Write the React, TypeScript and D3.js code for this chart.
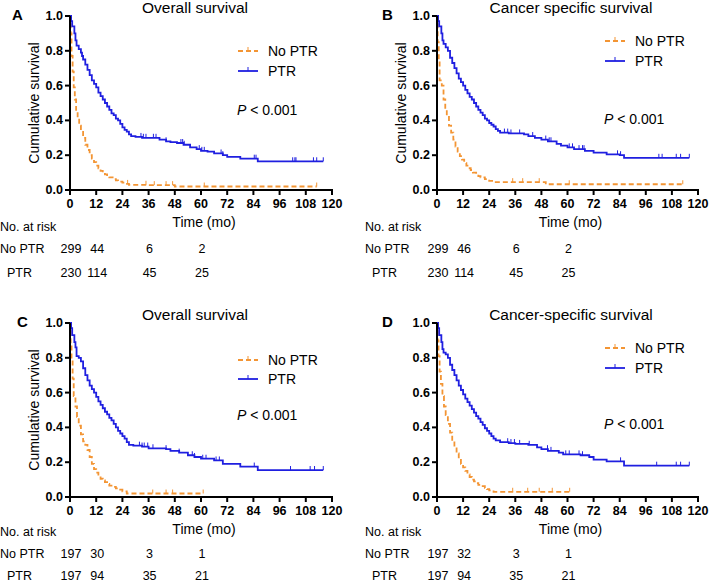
import React from 'react';
import * as d3 from 'd3';

const xTicks = [0, 12, 24, 36, 48, 60, 72, 84, 96, 108, 120];
const yTicks = [0, 0.2, 0.4, 0.6, 0.8, 1.0];
const riskTimes = [0, 12, 36, 60];
const groupNames = ['No PTR', 'PTR'];
const panelLetters = ['A', 'B', 'C', 'D'];
const panelTitles = ['Overall survival', 'Cancer specific survival', 'Overall survival', 'Cancer-specific survival'];

// ---- Panel A ----
const aNoPtr: [number, number][] = [
  [0, 1.0], [0.3, 0.9], [0.7, 0.77], [1.2, 0.68], [1.7, 0.59], [2.2, 0.52], [2.8, 0.46], [3.5, 0.41],
  [4.2, 0.37], [5, 0.34], [6, 0.3], [7, 0.26], [8, 0.23], [9, 0.2], [10, 0.18], [11, 0.16], [12, 0.14],
  [13, 0.125], [14, 0.11], [15, 0.1], [16, 0.09], [17, 0.08], [18, 0.072], [20, 0.062], [21, 0.055],
  [22, 0.048], [24, 0.042], [25, 0.035], [27, 0.03], [36, 0.028], [48, 0.02],
];
const aNoPtrEnd = 113;
const aNoPtrCens = [26.4, 34.8, 38.6, 44, 47, 61.5, 113];
const aPtr: [number, number][] = [
  [0, 1.0], [0.5, 0.97], [1, 0.94], [2, 0.9], [2.5, 0.86], [3, 0.83], [4, 0.81], [5, 0.79], [5.5, 0.77],
  [6, 0.75], [7, 0.72], [8, 0.69], [9, 0.66], [10, 0.63], [11, 0.61], [12, 0.59], [13, 0.56], [14, 0.54],
  [15, 0.52], [16, 0.5], [17, 0.48], [18, 0.46], [19, 0.44], [20, 0.43], [21, 0.41], [22, 0.4], [23, 0.38],
  [24, 0.36], [25, 0.345], [26, 0.335], [27, 0.32], [28, 0.31], [30, 0.305], [33, 0.3], [41, 0.29],
  [44, 0.28], [46, 0.275], [49, 0.27], [52, 0.26], [55, 0.245], [58, 0.235], [60, 0.225], [63, 0.22],
  [66, 0.21], [70, 0.2], [72, 0.19], [78, 0.18], [86, 0.165],
];
const aPtrEnd = 116;
const aPtrCens = [32.5, 33.6, 34.8, 38.2, 39.4, 44, 50.8, 51.6, 52.3, 59.2, 60.4, 61.5, 69.2, 70, 84.4, 85.2, 102, 103, 103.5, 111.5, 113, 116];
const aRiskNoPtr = [299, 44, 6, 2];
const aRiskPtr = [230, 114, 45, 25];

// ---- Panel B ----
const bNoPtr: [number, number][] = [
  [0, 1.0], [0.3, 0.85], [0.8, 0.75], [1.2, 0.63], [2.2, 0.6], [3, 0.52], [3.8, 0.46], [4.5, 0.42],
  [5.5, 0.37], [6.5, 0.33], [7.5, 0.29], [8.5, 0.25], [9.5, 0.22], [10.5, 0.195], [11.5, 0.175],
  [12.5, 0.155], [13.5, 0.14], [14.5, 0.125], [15.5, 0.115], [16.5, 0.1], [18, 0.09], [19, 0.08],
  [20, 0.072], [22, 0.062], [24, 0.052], [26, 0.045], [50, 0.033],
];
const bNoPtrEnd = 113;
const bNoPtrCens = [34.8, 39.4, 47, 60.8, 113];
const bPtr: [number, number][] = [
  [0, 1.0], [0.5, 0.97], [1, 0.94], [2, 0.9], [2.5, 0.86], [3, 0.84], [4, 0.82], [5, 0.8], [6, 0.76],
  [7, 0.73], [8, 0.7], [9, 0.67], [10, 0.64], [11, 0.62], [12, 0.6], [13, 0.575], [14, 0.555], [15, 0.535],
  [16, 0.52], [17, 0.5], [18, 0.48], [19, 0.46], [20, 0.445], [21, 0.43], [22, 0.41], [23, 0.4],
  [24, 0.385], [25, 0.375], [26, 0.365], [27, 0.35], [28, 0.34], [29, 0.33], [33, 0.325], [40, 0.32],
  [42, 0.31], [45, 0.3], [48, 0.29], [51, 0.28], [55, 0.265], [57, 0.255], [60, 0.245], [63, 0.235],
  [68, 0.225], [72, 0.215], [78, 0.205], [84, 0.2], [86, 0.185],
];
const bPtrEnd = 116;
const bPtrCens = [31, 32.5, 34, 38, 44, 50, 51.6, 52.4, 60.8, 62.3, 65.3, 66.9, 67.6, 83, 84.4, 102, 103.5, 110, 112, 116];
const bRiskNoPtr = [299, 46, 6, 2];
const bRiskPtr = [230, 114, 45, 25];

// ---- Panel C ----
const cNoPtr: [number, number][] = [
  [0, 1.0], [0.3, 0.88], [0.7, 0.78], [1.2, 0.68], [1.7, 0.58], [2.5, 0.52], [3.2, 0.46], [4, 0.41],
  [5, 0.36], [6, 0.32], [7, 0.3], [8, 0.27], [9, 0.23], [10, 0.19], [11, 0.16], [12, 0.14], [13, 0.12],
  [14, 0.105], [15, 0.095], [16, 0.085], [17, 0.075], [18, 0.065], [19, 0.058], [21, 0.05], [22, 0.042],
  [24, 0.032], [26, 0.02],
];
const cNoPtrEnd = 61;
const cNoPtrCens = [37.9, 44, 47, 61];
const cPtr: [number, number][] = [
  [0, 1.0], [0.5, 0.97], [1, 0.93], [2, 0.89], [2.5, 0.86], [3, 0.81], [4, 0.8], [5, 0.78], [6, 0.74],
  [7, 0.7], [8, 0.67], [9, 0.64], [10, 0.62], [11, 0.6], [12, 0.575], [13, 0.55], [14, 0.53], [15, 0.51],
  [16, 0.49], [17, 0.475], [18, 0.455], [19, 0.44], [20, 0.42], [21, 0.4], [22, 0.38], [23, 0.365],
  [24, 0.35], [25, 0.335], [26, 0.315], [27, 0.3], [29, 0.295], [33, 0.29], [36, 0.28], [44, 0.275],
  [46, 0.265], [50, 0.255], [54, 0.24], [57, 0.23], [60, 0.22], [66, 0.21], [70, 0.19], [78, 0.175],
  [86, 0.155],
];
const cPtrEnd = 116;
const cPtrCens = [31.8, 33, 34, 35.6, 38, 44, 50, 56, 57, 60.8, 62.3, 66.9, 68.4, 84.4, 101, 110, 112, 116];
const cRiskNoPtr = [197, 30, 3, 1];
const cRiskPtr = [197, 94, 35, 21];

// ---- Panel D ----
const dNoPtr: [number, number][] = [
  [0, 1.0], [0.3, 0.9], [0.7, 0.81], [1.2, 0.72], [1.8, 0.65], [2.5, 0.58], [3.2, 0.52], [4, 0.47],
  [5, 0.42], [6, 0.37], [7, 0.32], [8, 0.28], [9, 0.25], [10, 0.22], [11, 0.19], [12, 0.17], [13, 0.15],
  [14, 0.13], [15, 0.115], [16, 0.1], [17, 0.09], [18, 0.08], [19, 0.07], [20, 0.062], [22, 0.052],
  [23, 0.045], [24, 0.038], [26, 0.03],
];
const dNoPtrEnd = 61;
const dNoPtrCens = [34.8, 41.7, 47, 53, 61];
const dPtr: [number, number][] = [
  [0, 1.0], [0.5, 0.97], [1, 0.93], [2, 0.89], [2.5, 0.85], [3, 0.83], [4, 0.82], [5, 0.8], [6, 0.76],
  [7, 0.73], [8, 0.7], [9, 0.67], [10, 0.64], [11, 0.615], [12, 0.59], [13, 0.565], [14, 0.545],
  [15, 0.525], [16, 0.505], [17, 0.485], [18, 0.465], [19, 0.45], [20, 0.43], [21, 0.415], [22, 0.395],
  [23, 0.38], [24, 0.365], [25, 0.35], [26, 0.335], [27, 0.325], [29, 0.315], [33, 0.31], [36, 0.305],
  [42, 0.3], [46, 0.285], [48, 0.275], [51, 0.265], [56, 0.255], [58, 0.245], [66, 0.24], [70, 0.23],
  [72, 0.215], [78, 0.205], [86, 0.18],
];
const dPtrEnd = 116;
const dPtrCens = [32.5, 34, 35.6, 38, 42.4, 50.8, 52.4, 59.2, 60.8, 65.3, 66.9, 84.4, 101, 110, 112, 116];
const dRiskNoPtr = [197, 32, 3, 1];
const dRiskPtr = [197, 94, 35, 21];

const ORANGE = '#f39534';
const BLUE = '#1f1fe0';
const FONT = 'Liberation Sans, Arial, Helvetica, sans-serif';

type Series = { pts: [number, number][]; end: number; cens: number[] };

const panelData: { noPtr: Series; ptr: Series; riskNo: number[]; riskPtr: number[] }[] = [
  { noPtr: { pts: aNoPtr, end: aNoPtrEnd, cens: aNoPtrCens }, ptr: { pts: aPtr, end: aPtrEnd, cens: aPtrCens }, riskNo: aRiskNoPtr, riskPtr: aRiskPtr },
  { noPtr: { pts: bNoPtr, end: bNoPtrEnd, cens: bNoPtrCens }, ptr: { pts: bPtr, end: bPtrEnd, cens: bPtrCens }, riskNo: bRiskNoPtr, riskPtr: bRiskPtr },
  { noPtr: { pts: cNoPtr, end: cNoPtrEnd, cens: cNoPtrCens }, ptr: { pts: cPtr, end: cPtrEnd, cens: cPtrCens }, riskNo: cRiskNoPtr, riskPtr: cRiskPtr },
  { noPtr: { pts: dNoPtr, end: dNoPtrEnd, cens: dNoPtrCens }, ptr: { pts: dPtr, end: dPtrEnd, cens: dPtrCens }, riskNo: dRiskNoPtr, riskPtr: dRiskPtr },
];

// layout per panel
const layouts = [
  { x0: 70, x1: 332, oy: 0, left: 0, letterX: 12, titleX: 195, legY: [56, 76], pY: 115, yLabel: true, riskY: [231, 252.5, 277] },
  { x0: 437, x1: 698, oy: 0, left: 365, letterX: 382, titleX: 571, legY: [46, 66], pY: 124, yLabel: true, riskY: [231, 252.5, 277] },
  { x0: 70, x1: 332, oy: 307, left: 0, letterX: 17, titleX: 195, legY: [58, 77], pY: 113, yLabel: true, riskY: [229, 251, 273] },
  { x0: 437, x1: 698, oy: 307, left: 365, letterX: 382, titleX: 571, legY: [46, 66], pY: 122, yLabel: false, riskY: [229, 251, 273] },
];

function survAt(pts: [number, number][], t: number) {
  let s = pts[0][1];
  for (const p of pts) if (p[0] <= t) s = p[1];
  return s;
}

function Panel({ idx }: { idx: number }) {
  const L = layouts[idx];
  const D = panelData[idx];
  const yTop = 16 + L.oy;
  const yBot = 190 + L.oy;
  const x = d3.scaleLinear().domain([0, 120]).range([L.x0, L.x1]);
  const y = d3.scaleLinear().domain([0, 1]).range([yBot, yTop]);
  const line = d3.line<[number, number]>().x(d => x(d[0])).y(d => y(d[1])).curve(d3.curveStepAfter);
  const mk = (s: Series) => {
    const pts = [...s.pts, [s.end, s.pts[s.pts.length - 1][1]] as [number, number]];
    return line(pts) || '';
  };
  const series = [
    { s: D.noPtr, color: ORANGE, dash: '5,3' },
    { s: D.ptr, color: BLUE, dash: undefined as string | undefined },
  ];
  const legX = L.x0 + 168;
  const riskRows = [D.riskNo, D.riskPtr];
  return (
    <g fontFamily={FONT}>
      <text x={L.letterX} y={20 + L.oy} fontSize={15} fontWeight="bold">{panelLetters[idx]}</text>
      <text x={L.titleX} y={13 + L.oy} fontSize={15.5} textAnchor="middle">{panelTitles[idx]}</text>
      {L.yLabel && (
        <text transform={`translate(${L.x0 - 36},${(yTop + yBot) / 2}) rotate(-90)`} fontSize={14} textAnchor="middle" dominantBaseline="central">Cumulative survival</text>
      )}
      {series.map((sr, i) => (
        <g key={i}>
          <path d={mk(sr.s)} fill="none" stroke={sr.color} strokeWidth={1.8} strokeDasharray={sr.dash} />
          {sr.s.cens.map((c, j) => {
            const yy = y(survAt(sr.s.pts, c));
            return <line key={j} x1={x(c)} x2={x(c)} y1={yy} y2={yy - 4} stroke={sr.color} strokeWidth={1} />;
          })}
        </g>
      ))}
      {/* axes */}
      <line x1={L.x0} x2={L.x0} y1={yTop} y2={yBot} stroke="#000" strokeWidth={2} />
      <line x1={L.x0 - 1} x2={L.x1 + 1} y1={yBot} y2={yBot} stroke="#000" strokeWidth={2} />
      {yTicks.map(t => (
        <g key={t}>
          <line x1={L.x0 - 5} x2={L.x0} y1={y(t)} y2={y(t)} stroke="#000" strokeWidth={2} />
          <text x={L.x0 - 7} y={y(t)} fontSize={12.5} fontWeight="bold" textAnchor="end" dominantBaseline="central">{t.toFixed(1)}</text>
        </g>
      ))}
      {xTicks.map(t => (
        <g key={t}>
          <line x1={x(t)} x2={x(t)} y1={yBot} y2={yBot + 5} stroke="#000" strokeWidth={2} />
          <text x={x(t)} y={208 + L.oy} fontSize={12.5} fontWeight="bold" textAnchor="middle">{t}</text>
        </g>
      ))}
      <text x={(L.x0 + L.x1) / 2 + 3} y={227 + L.oy} fontSize={14} textAnchor="middle">Time (mo)</text>
      {/* legend */}
      {series.map((sr, i) => (
        <g key={i}>
          <line x1={legX} x2={legX + 20} y1={L.legY[i] + L.oy - 5} y2={L.legY[i] + L.oy - 5} stroke={sr.color} strokeWidth={1.8} strokeDasharray={sr.dash} />
          <line x1={legX + 10} x2={legX + 10} y1={L.legY[i] + L.oy - 5} y2={L.legY[i] + L.oy - 9} stroke={sr.color} strokeWidth={1} />
          <text x={legX + 30} y={L.legY[i] + L.oy} fontSize={14}>{groupNames[i]}</text>
        </g>
      ))}
      <text x={legX - 1} y={L.pY + L.oy} fontSize={14}><tspan fontStyle="italic">P</tspan> &lt; 0.001</text>
      {/* number at risk */}
      <text x={L.left} y={L.riskY[0] + L.oy} fontSize={12.5}>No. at risk</text>
      {riskRows.map((row, i) => (
        <g key={i}>
          <text x={L.left + (i === 0 ? 0 : 7)} y={L.riskY[i + 1] + L.oy} fontSize={12.5}>{groupNames[i]}</text>
          {row.map((v, j) => (
            <text key={j} x={x(riskTimes[j]) + 1} y={L.riskY[i + 1] + L.oy} fontSize={12.5} textAnchor="middle">{v}</text>
          ))}
        </g>
      ))}
    </g>
  );
}

export default function App() {
  return (
    <svg width={709} height={584} style={{ position: 'absolute', left: 0, top: 0, background: '#fff' }}>
      <rect width={709} height={584} fill="#fff" />
      {[0, 1, 2, 3].map(i => <Panel key={i} idx={i} />)}
    </svg>
  );
}
